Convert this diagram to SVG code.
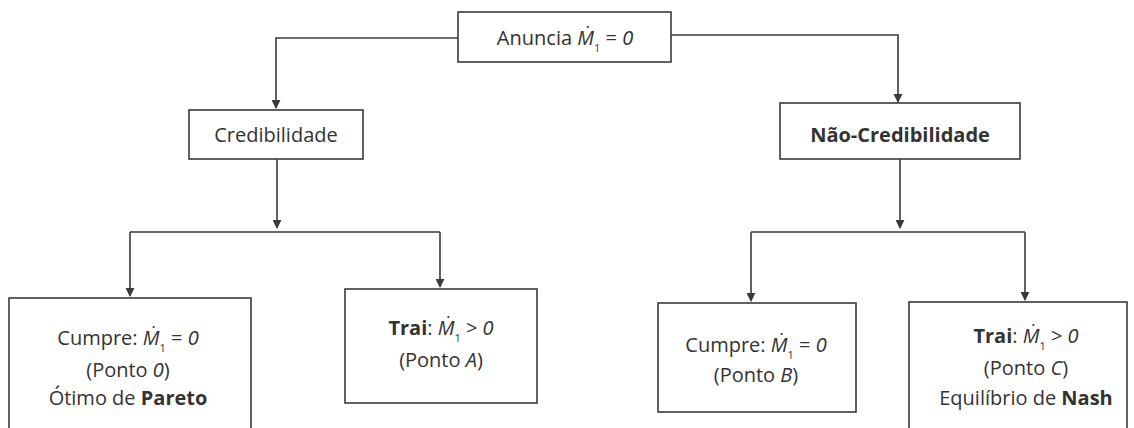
<svg xmlns="http://www.w3.org/2000/svg" width="1134" height="428" viewBox="0 0 1134 428">
  <style>
    .box { fill: #ffffff; stroke: #3a3a3a; stroke-width: 1.6; }
    .lbl { font-family: "Open Sans", "Noto Sans", "DejaVu Sans", sans-serif; font-size: 20px; fill: #333333; text-anchor: middle; }
    .b { font-weight: bold; }
    .i { font-style: italic; }
    .sub { font-size: 11px; }
    .wire { fill: none; stroke: #3a3a3a; stroke-width: 1.6; }
  </style>
  <defs>
    <marker id="arrow" viewBox="0 0 10 10" refX="9" refY="5" markerWidth="9" markerHeight="9" markerUnits="userSpaceOnUse" orient="auto">
      <path d="M0,0 L10,5 L0,10 Z" fill="#3a3a3a"/>
    </marker>
  </defs>
  <rect width="1134" height="428" fill="#ffffff"/>

  <g id="connectors">
    <polyline class="wire" points="458,38 276,38 276,108" marker-end="url(#arrow)"/>
    <polyline class="wire" points="671,35 898,35 898,102" marker-end="url(#arrow)"/>
    <line class="wire" x1="277" y1="159" x2="277" y2="228" marker-end="url(#arrow)"/>
    <polyline class="wire" points="130,232 130,296" marker-end="url(#arrow)"/>
    <line class="wire" x1="130" y1="232" x2="440" y2="232"/>
    <polyline class="wire" points="440,232 440,287" marker-end="url(#arrow)"/>
    <line class="wire" x1="900" y1="159" x2="900" y2="228" marker-end="url(#arrow)"/>
    <line class="wire" x1="751" y1="232" x2="1025" y2="232"/>
    <polyline class="wire" points="751,232 751,301" marker-end="url(#arrow)"/>
    <polyline class="wire" points="1025,232 1025,300" marker-end="url(#arrow)"/>
  </g>

  <g id="anuncia">
    <rect class="box" x="458" y="12" width="213" height="50"/>
    <text class="lbl" x="565" y="45">Anuncia <tspan class="i">Ṁ</tspan><tspan class="sub" dy="7">1</tspan><tspan dy="-7"> = </tspan><tspan class="i">0</tspan></text>
  </g>

  <g id="credibilidade">
    <rect class="box" x="189" y="110" width="174" height="49"/>
    <text class="lbl" x="276" y="142">Credibilidade</text>
  </g>

  <g id="nao-credibilidade">
    <rect class="box" x="780" y="103" width="240" height="56"/>
    <text class="lbl b" x="900" y="142">Não-Credibilidade</text>
  </g>

  <g id="cumpre-0">
    <rect class="box" x="9" y="298" width="242" height="140"/>
    <text class="lbl" x="128" y="345">Cumpre: <tspan class="i">Ṁ</tspan><tspan class="sub" dy="7">1</tspan><tspan dy="-7"> = </tspan><tspan class="i">0</tspan></text>
    <text class="lbl" x="128" y="377">(Ponto <tspan class="i">0</tspan>)</text>
    <text class="lbl" x="128" y="405">Ótimo de <tspan class="b">Pareto</tspan></text>
  </g>

  <g id="trai-a">
    <rect class="box" x="345" y="289" width="192" height="114"/>
    <text class="lbl" x="441" y="335"><tspan class="b">Trai</tspan>: <tspan class="i">Ṁ</tspan><tspan class="sub" dy="7">1</tspan><tspan dy="-7"> &gt; </tspan><tspan class="i">0</tspan></text>
    <text class="lbl" x="441" y="367">(Ponto <tspan class="i">A</tspan>)</text>
  </g>

  <g id="cumpre-b">
    <rect class="box" x="658" y="303" width="198" height="109"/>
    <text class="lbl" x="756" y="352">Cumpre: <tspan class="i">Ṁ</tspan><tspan class="sub" dy="7">1</tspan><tspan dy="-7"> = </tspan><tspan class="i">0</tspan></text>
    <text class="lbl" x="756" y="382">(Ponto <tspan class="i">B</tspan>)</text>
  </g>

  <g id="trai-c">
    <rect class="box" x="909" y="302" width="218" height="140"/>
    <text class="lbl" x="1026" y="343"><tspan class="b">Trai</tspan>: <tspan class="i">Ṁ</tspan><tspan class="sub" dy="7">1</tspan><tspan dy="-7"> &gt; </tspan><tspan class="i">0</tspan></text>
    <text class="lbl" x="1026" y="375">(Ponto <tspan class="i">C</tspan>)</text>
    <text class="lbl" x="1026" y="405">Equilíbrio de <tspan class="b">Nash</tspan></text>
  </g>
</svg>
